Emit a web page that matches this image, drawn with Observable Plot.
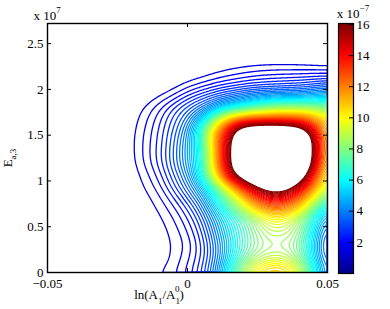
<!DOCTYPE html>
<html><head><meta charset="utf-8">
<script src="https://cdn.jsdelivr.net/npm/d3@7"></script>
<script src="https://cdn.jsdelivr.net/npm/@observablehq/plot@0.6"></script>
<style>
body{margin:0;background:#fff;}
#wrap{position:relative;width:390px;height:309px;}
#wrap svg{position:absolute;top:0;}
#wrap svg, #wrap svg text, #wrap svg tspan{font-family:"Liberation Serif","DejaVu Serif",serif !important;}
</style></head><body><div id="wrap"></div>
<script>
// grid columns: ln(A1/A1^0)
const xs = [-0.05,-0.035,-0.025,-0.02,-0.015,-0.01,-0.005,0,0.005,0.01,0.015,0.02,0.025,0.03,0.035,0.04,0.045,0.05];
// grid rows: E_{a,3} (x 10^7)
const ys = [0,0.15,0.3,0.45,0.6,0.75,0.9,1.05,1.2,1.35,1.5,1.65,1.8,1.95,2.1,2.25,2.4,2.7];
// estimated field values (x 10^-7), one array per row
const z000 = [0.4,0.7,0.95,1.1,1.3,1.52,1.7,2.07,2.75,4.0,6.5,8.8,10.8,11.9,11.5,9.5,6.8,3.5];
const z015 = [0.35,0.6,0.85,0.95,1.1,1.3,1.55,1.9,2.45,3.6,5.5,7.5,8.7,9.1,9.0,8.0,5.5,3.2];
const z030 = [0.35,0.6,0.85,0.95,1.1,1.3,1.53,1.77,2.4,3.6,5.2,6.8,7.85,8.3,8.25,7.5,5.2,3.0];
const z045 = [0.35,0.6,0.85,1.0,1.15,1.35,1.6,1.97,2.65,4.0,5.6,7.0,8.3,9.0,9.0,8.2,5.8,3.3];
const z060 = [0.35,0.62,0.9,1.05,1.25,1.45,1.73,2.2,3.0,4.4,6.0,7.2,8.7,10.0,10.0,8.4,6.2,4.2];
const z075 = [0.35,0.65,0.95,1.15,1.35,1.6,2.0,2.65,3.6,5.5,7.6,9.7,12.3,13.2,13.0,11.6,8.8,6.0];
const z090 = [0.35,0.7,1.05,1.25,1.47,1.8,2.5,3.4,4.6,6.8,9.4,12.5,14.8,16.5,16.3,14.0,11.2,8.6];
const z105 = [0.35,0.75,1.1,1.3,1.6,2.07,2.9,3.9,6.2,10.3,14.8,17.5,20,21,20.5,18,13.5,9.8];
const z120 = [0.35,0.75,1.15,1.38,1.82,2.35,3.25,4.4,6.2,11.2,15.8,20,22,23,22.5,20,15.8,10.5];
const z135 = [0.35,0.75,1.15,1.4,1.83,2.35,3.2,4.4,6.3,11.3,15.8,20,22,22.5,22,20,15.9,10.5];
const z150 = [0.35,0.75,1.15,1.4,1.8,2.3,3.1,4.2,6.8,12.0,15.3,19.5,20.5,21,20.5,19.5,15.8,10.8];
const z165 = [0.35,0.75,1.1,1.35,1.7,2.2,2.9,3.7,5.6,9.3,12.5,14.2,14.4,14.3,14.3,14.0,12.8,11.0];
const z180 = [0.33,0.7,1.05,1.27,1.55,1.95,2.55,3.15,3.7,4.4,5.2,6.0,7.0,8.0,8.3,8.3,8.2,8.0];
const z195 = [0.3,0.6,0.9,1.05,1.2,1.4,1.6,2.1,2.5,2.9,3.2,3.5,3.65,3.7,3.8,3.9,4.2,4.6];
const z210 = [0.25,0.5,0.75,0.85,0.95,1.1,1.25,1.38,1.5,1.68,1.85,2.0,2.15,2.25,2.3,2.35,2.45,2.5];
const z225 = [0.2,0.4,0.6,0.7,0.8,0.9,1.0,1.1,1.2,1.3,1.4,1.47,1.51,1.53,1.53,1.5,1.45,1.4];
const z240 = [0.15,0.3,0.45,0.5,0.55,0.6,0.7,0.75,0.8,0.9,0.95,1.0,1.05,1.05,1.05,1.05,1.0,1.0];
const z270 = [0.1,0.2,0.3,0.35,0.4,0.45,0.5,0.55,0.6,0.62,0.65,0.68,0.7,0.7,0.7,0.7,0.7,0.7];
const zRows = [z000,z015,z030,z045,z060,z075,z090,z105,z120,z135,z150,z165,z180,z195,z210,z225,z240,z270];

const xTicks = [-0.05, 0, 0.05];
const yTicks = [0, 0.5, 1, 1.5, 2, 2.5];
const cbTicks = [2, 4, 6, 8, 10, 12, 14, 16];
const levels = d3.range(1.5, 16.001, 0.25);

const jetStops = [0, 2, 6, 10, 14, 16];
const jetColors = ["#000088", "#0000ff", "#00ffff", "#ffff00", "#ff0000", "#800000"];

const points = ys.flatMap((y, j) => xs.map((x, i) => ({x, y, v: zRows[j][i]})));

const fmt = d => (d < 0 ? "\u2212" : "") + Math.abs(d);
const font = {fontFamily: "Liberation Serif, DejaVu Serif, serif", fontSize: "13px", background: "transparent", color: "black", overflow: "visible"};
const colorScale = {type: "linear", domain: jetStops, range: jetColors, interpolate: "rgb"};

const main = Plot.plot({
  width: 390, height: 309,
  marginLeft: 47, marginRight: 63, marginTop: 23, marginBottom: 37,
  style: font,
  x: {domain: [-0.05, 0.05], label: null},
  y: {domain: [0, 2.72], label: null},
  color: colorScale,
  marks: [
    Plot.contour(points, {x: "x", y: "y", stroke: "v", interpolate: "barycentric", thresholds: levels,
      blur: 6, pixelSize: 1, x1: -0.05, x2: 0.05, y1: 0, y2: 2.72, strokeWidth: 1.3, clip: true}),
    Plot.tickX(xTicks, {x: d => d, insetTop: 245, stroke: "black"}),
    Plot.tickX(xTicks, {x: d => d, insetBottom: 245, stroke: "black"}),
    Plot.tickY(yTicks, {y: d => d, insetRight: 276, stroke: "black"}),
    Plot.tickY(yTicks, {y: d => d, insetLeft: 276, stroke: "black"}),
    Plot.frame({stroke: "black", strokeWidth: 1.4}),
    Plot.axisX({ticks: xTicks, tickSize: 0, tickPadding: 6, label: null, tickFormat: fmt}),
    Plot.axisY({ticks: yTicks, tickSize: 0, tickPadding: 4, label: null, tickFormat: fmt})
  ]
});
main.style.left = "0px";

const bar = Plot.plot({
  width: 70, height: 309,
  marginLeft: 18, marginRight: 37, marginTop: 23, marginBottom: 36,
  style: font,
  x: {domain: [0, 1], axis: null},
  y: {domain: [0, 16.06], label: null},
  color: colorScale,
  marks: [
    Plot.raster({x1: 0, x2: 1, y1: 0, y2: 16.06, fill: (x, y) => y, pixelSize: 1}),
    Plot.tickY(cbTicks, {y: d => d, insetLeft: 11, stroke: "black"}),
    Plot.frame({stroke: "black", strokeWidth: 1.2}),
    Plot.axisY({anchor: "right", ticks: cbTicks, tickSize: 0, tickPadding: 3, label: null, tickFormat: fmt})
  ]
});
bar.style.left = "320px";

const wrap = document.getElementById("wrap");
wrap.appendChild(main);
wrap.appendChild(bar);

const svg = d3.select(main);
// x 10^7
const t1 = svg.append("text").attr("x", 47).attr("y", 20).attr("font-size", 13).text("x 10");
t1.append("tspan").attr("dy", -7).attr("font-size", 9).text("7");
// x label
const xl = svg.append("text").attr("x", 159).attr("y", 299).attr("font-size", 13).text("ln(A");
xl.append("tspan").attr("dy", 5).attr("font-size", 9).text("1");
xl.append("tspan").attr("dy", -5).text("/A");
xl.append("tspan").attr("dy", 5).attr("font-size", 9).text("1");
xl.append("tspan").attr("dx", -5).attr("dy", -12).attr("font-size", 9).text("0");
xl.append("tspan").attr("dy", 7).text(")");
// y label
const yl = svg.append("text").attr("transform", "translate(12,158) rotate(-90)").attr("font-size", 13).text("E");
yl.append("tspan").attr("dy", 4).attr("font-size", 9).text("a,3");
// colorbar multiplier
const bsvg = d3.select(bar);
const t2 = bsvg.append("text").attr("x", 33).attr("y", 18).attr("font-size", 13).text("x 10");
t2.append("tspan").attr("dy", -7).attr("font-size", 9).text("\u22127");
</script></body></html>
